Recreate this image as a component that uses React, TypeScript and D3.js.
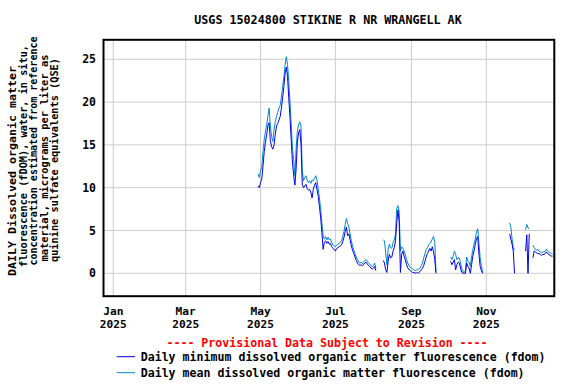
import * as d3 from "d3";

const title = "USGS 15024800 STIKINE R NR WRANGELL AK";
const yLabelLines = [
  "DAILY Dissolved organic matter",
  "fluorescence (fDOM), water, in situ,",
  "concentration estimated from reference",
  "material, micrograms per liter as",
  "quinine sulfate equivalents (QSE)",
];
const provisional = "---- Provisional Data Subject to Revision ----";
const legendLabels = [
  "Daily minimum dissolved organic matter fluorescence (fdom)",
  "Daily mean dissolved organic matter fluorescence (fdom)",
];
const seriesColors = ["#0000ee", "#0088cc"];

const yTicks = [0, 5, 10, 15, 20, 25];
const xTickDates = ["2025-01-01", "2025-03-01", "2025-05-01", "2025-07-01", "2025-09-01", "2025-11-01"];
const xTickMonths = ["Jan", "Mar", "May", "Jul", "Sep", "Nov"];
const xTickYears = ["2025", "2025", "2025", "2025", "2025", "2025"];

// daily values, one array per continuous run of data
const segmentStarts = ["2025-04-29", "2025-08-09", "2025-10-03", "2025-11-20", "2025-12-03", "2025-12-09"];

const meanSegments = [
  [11.6, 11.2, 12.0, 12.4, 14.2, 15.6, 16.6, 17.3, 18.4, 19.3, 17.2, 16.0, 15.4, 16.8, 17.7, 18.3, 18.8, 19.3, 19.6, 20.6,
   21.8, 22.9, 24.3, 25.3, 24.4, 22.4, 20.0, 17.4, 14.6, 13.3, 11.4, 14.6, 16.6, 17.4, 17.7, 17.2, 12.0, 10.8, 11.2, 11.4,
   10.9, 10.6, 10.8, 10.5, 10.9, 10.8, 11.1, 11.4, 10.9, 9.9, 8.8, 7.5, 5.9, 4.4, 4.0, 4.3, 3.9, 4.2, 3.9, 4.0,
   3.6, 3.3, 3.2, 3.1, 3.3, 3.4, 3.5, 3.6, 3.8, 4.3, 4.9, 5.7, 6.4, 5.8, 5.4, 4.6, 3.8, 3.2, 2.7, 2.3,
   1.9, 1.6, 1.3, 1.2, 1.3, 1.1, 1.3, 1.5, 1.6, 1.4, 1.2, 1.1, 0.9, 0.8, 0.9, 1.2, 0.6],
  [3.9, 3.8, 2.4, 1.0, 2.8, 3.4, 3.0, 2.9, 3.6, 3.9, 4.6, 7.6, 7.9, 7.2, 2.6, 3.1, 2.9, 2.6, 2.2, 1.6,
   1.2, 0.9, 0.7, 0.6, 0.5, 0.4, 0.3, 0.4, 0.4, 0.5, 0.6, 0.9, 1.2, 1.8, 2.3, 2.8, 3.0, 3.3, 3.5, 3.7,
   4.0, 4.3, 3.7, 0.2],
  [1.9, 1.6, 2.0, 2.6, 2.2, 1.6, 1.8, 1.8, 1.2, 0.5, 0.2, 0.1, 0.3, 1.9, 1.4, 1.3, 0.8, 1.9, 2.8, 3.4,
   4.0, 4.8, 5.2, 3.5, 1.8, 0.9, 0.1],
  [5.9, 5.4, 4.0, 3.0, 2.7],
  [5.1, 5.7, 5.3, 5.2],
  [3.3, 3.0, 2.8, 2.7, 2.8, 2.6, 2.5, 2.4, 2.5, 2.5, 2.6, 2.8, 2.6, 2.5, 2.4, 2.3, 2.3],
];

const minSegments = [
  [10.2, 10.0, 10.6, 11.0, 12.5, 14.2, 15.3, 16.2, 17.3, 17.6, 15.5, 14.8, 14.5, 15.0, 16.2, 17.2, 17.5, 17.9, 18.3, 19.3,
   20.5, 21.8, 23.3, 24.1, 23.0, 20.5, 18.3, 15.6, 13.0, 11.4, 10.3, 12.2, 15.3, 16.4, 16.8, 15.0, 10.4, 10.0, 10.2, 10.4,
   9.9, 9.7, 9.8, 9.5, 8.8, 9.8, 10.3, 10.6, 9.8, 9.0, 7.8, 6.5, 4.8, 2.8, 3.6, 3.8, 3.5, 3.7, 3.4, 3.5,
   3.1, 2.9, 2.8, 2.6, 2.9, 3.0, 3.1, 3.2, 3.3, 3.7, 4.2, 4.9, 5.4, 4.4, 4.6, 3.9, 3.2, 2.7, 2.3, 1.9,
   1.5, 1.2, 1.0, 0.9, 1.0, 0.9, 1.0, 1.2, 1.3, 1.1, 0.9, 0.8, 0.6, 0.5, 0.6, 0.8, 0.3],
  [1.5, 1.2, 0.4, 0.1, 1.4, 2.2, 1.8, 1.9, 2.6, 3.0, 3.8, 5.9, 7.4, 6.0, 0.1, 2.2, 2.6, 2.0, 1.6, 1.0,
   0.6, 0.5, 0.3, 0.2, 0.1, 0.1, 0.0, 0.1, 0.0, 0.1, 0.2, 0.4, 0.6, 0.9, 1.4, 1.9, 2.3, 2.6, 2.9, 2.6,
   3.1, 2.5, 1.6, 0.0],
  [1.4, 1.0, 1.3, 1.6, 0.4, 1.0, 1.3, 1.2, 0.6, 0.1, 0.0, 0.0, 0.0, 1.2, 0.8, 0.6, 0.0, 1.0, 2.0, 2.6,
   3.4, 4.0, 4.3, 2.2, 0.8, 0.3, 0.0],
  [4.6, 4.0, 3.4, 2.6, 0.0],
  [2.6, 4.5, 0.0, 4.6],
  [1.8, 2.6, 2.5, 2.4, 2.3, 2.3, 2.2, 2.1, 2.2, 2.2, 2.3, 2.5, 2.3, 2.2, 2.1, 2.0, 2.0],
];

const DAY = 86400000;
const FONT = "'DejaVu Sans Mono', monospace";

const plotLeft = 103.5;
const plotRight = 554.3;
const plotTop = 39.8;
const plotBottom = 296.2;

// measured placement of the rotated y-label lines: [centre y, length]
const yLabelPlacement = [
  [171, 210],
  [156, 222],
  [151, 229],
  [158, 207],
  [160, 204],
];

export default function App() {
  const x = d3
    .scaleUtc()
    .domain([Date.parse("2025-01-01"), Date.parse("2025-11-01")])
    .range([113.3, 486.3]);

  const y = d3.scaleLinear().domain([0, 25]).range([273.3, 59.3]);

  const makePath = (values: number[], start: string) => {
    const t0 = Date.parse(start);
    const line = d3
      .line<number>()
      .x((_, i) => x(t0 + i * DAY))
      .y((d) => y(d));
    return line(values) || "";
  };

  return (
    <svg
      width={576}
      height={384}
      style={{ position: "absolute", left: 0, top: 0, background: "#fff" }}
      fontFamily={FONT}
      fontWeight="bold"
    >
      <defs>
        <clipPath id="plot-clip">
          <rect x={plotLeft} y={plotTop} width={plotRight - plotLeft} height={plotBottom - plotTop} />
        </clipPath>
      </defs>
      <rect width={576} height={384} fill="#fff" />

      <text x={328} y={24} textAnchor="middle" fontSize={11.7} fill="#000">
        {title}
      </text>

      {/* grid */}
      {yTicks.map((t) => (
        <line key={"gy" + t} x1={plotLeft} x2={plotRight} y1={y(t)} y2={y(t)} stroke="#cccccc" strokeWidth={1} />
      ))}
      {xTickDates.map((d) => (
        <line
          key={"gx" + d}
          x1={x(Date.parse(d))}
          x2={x(Date.parse(d))}
          y1={plotTop}
          y2={plotBottom}
          stroke="#cccccc"
          strokeWidth={1}
        />
      ))}

      {/* series */}
      <g clipPath="url(#plot-clip)" fill="none" strokeWidth={1}>
        {meanSegments.map((seg, i) => (
          <path key={"mean" + i} d={makePath(seg, segmentStarts[i])} stroke={seriesColors[1]} />
        ))}
        {minSegments.map((seg, i) => (
          <path key={"min" + i} d={makePath(seg, segmentStarts[i])} stroke={seriesColors[0]} />
        ))}
      </g>

      <rect
        x={plotLeft}
        y={plotTop}
        width={plotRight - plotLeft}
        height={plotBottom - plotTop}
        fill="none"
        stroke="#000"
        strokeWidth={2}
      />

      {/* y ticks */}
      {yTicks.map((t) => (
        <text key={"yl" + t} x={96} y={y(t)} dy="0.35em" textAnchor="end" fontSize={11.5} fill="#000">
          {t}
        </text>
      ))}

      {/* x ticks */}
      {xTickDates.map((d, i) => (
        <g key={"xl" + d} transform={`translate(${x(Date.parse(d))},0)`} fontSize={11.2} fill="#000">
          <text y={315} textAnchor="middle">
            {xTickMonths[i]}
          </text>
          <text y={328} textAnchor="middle">
            {xTickYears[i]}
          </text>
        </g>
      ))}

      {/* y label */}
      {yLabelLines.map((l, i) => (
        <text
          key={"ylab" + i}
          transform={`translate(${12 + i * 10.5},${yLabelPlacement[i][0]}) rotate(-90)`}
          textAnchor="middle"
          dominantBaseline="central"
          fontSize={10.5}
          textLength={yLabelPlacement[i][1]}
          lengthAdjust="spacingAndGlyphs"
          fill="#000"
        >
          {l}
        </text>
      ))}

      {/* legend */}
      <text x={327} y={346.5} textAnchor="middle" fontSize={11.6} fill="#ff0000">
        {provisional}
      </text>
      {legendLabels.map((l, i) => (
        <g key={"leg" + i} transform={`translate(0,${356.7 + i * 16})`}>
          <line x1={116.7} x2={135} y1={0} y2={0} stroke={seriesColors[i]} strokeWidth={1} />
          <text x={140.7} y={0} dy="0.35em" fontSize={11.6} fill="#000">
            {l}
          </text>
        </g>
      ))}
    </svg>
  );
}
